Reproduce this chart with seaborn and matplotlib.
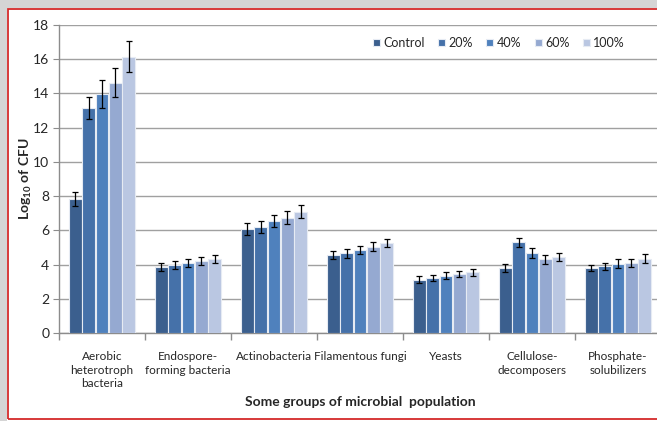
import numpy as np
import pandas as pd
import matplotlib
matplotlib.use('Agg')
import matplotlib.pyplot as plt
import seaborn as sns
from matplotlib.patches import Rectangle

# data
groups = ['Aerobic\nheterotroph\nbacteria', 'Endospore-\nforming bacteria', 'Actinobacteria',
          'Filamentous fungi', 'Yeasts', 'Cellulose-\ndecomposers', 'Phosphate-\nsolubilizers']
treatments = ['Control', '20%', '40%', '60%', '100%']
control = [7.85, 3.87, 6.05, 4.55, 3.12, 3.80, 3.80]
pct20 = [13.15, 3.97, 6.20, 4.65, 3.22, 5.30, 3.90]
pct40 = [13.97, 4.10, 6.55, 4.85, 3.35, 4.68, 4.05]
pct60 = [14.62, 4.20, 6.75, 5.05, 3.45, 4.30, 4.10]
pct100 = [16.15, 4.33, 7.10, 5.25, 3.55, 4.45, 4.35]
err_control = [0.40, 0.25, 0.35, 0.25, 0.20, 0.22, 0.20]
err_20 = [0.65, 0.22, 0.35, 0.25, 0.18, 0.25, 0.20]
err_40 = [0.80, 0.22, 0.35, 0.25, 0.20, 0.28, 0.25]
err_60 = [0.85, 0.25, 0.40, 0.28, 0.18, 0.25, 0.25]
err_100 = [0.90, 0.25, 0.40, 0.25, 0.20, 0.25, 0.25]

colors = ['#3b5f8e', '#4571a9', '#4f81bd', '#95a9d1', '#bac7e2']

values = [control, pct20, pct40, pct60, pct100]
errors = [err_control, err_20, err_40, err_60, err_100]
df = pd.DataFrame({
    'group': groups * len(treatments),
    'treatment': np.repeat(treatments, len(groups)),
    'value': np.concatenate(values),
})

sns.set_style('white')
plt.rcParams['font.family'] = ['Lato', 'DejaVu Sans']
plt.rcParams['mathtext.fontset'] = 'custom'
plt.rcParams['mathtext.bf'] = 'Lato:bold'
plt.rcParams['mathtext.rm'] = 'Lato'

fig = plt.figure(figsize=(6.57, 4.21), dpi=100)
ax = fig.add_axes([59 / 657, 1 - 333 / 421, 602 / 657, 308 / 421])

sns.barplot(data=df, x='group', y='value', hue='treatment', hue_order=treatments,
            palette=colors, saturation=1, width=0.78, gap=0.04, edgecolor='#e6ebf3',
            linewidth=0.8, errorbar=None, ax=ax, zorder=3)

for cont, err in zip(ax.containers, errors):
    xs = [p.get_x() + p.get_width() / 2 for p in cont]
    ys = [p.get_height() for p in cont]
    ax.errorbar(xs, ys, yerr=err, fmt='none', ecolor='black', elinewidth=0.9,
                capsize=2.5, capthick=0.9, zorder=4)

ax.set_ylim(0, 18)
ax.set_yticks(range(0, 19, 2))
ax.set_xlim(-0.5, len(groups) - 0.5)
ax.yaxis.grid(True, color='#a0a0a0', linewidth=1.0, zorder=0)
ax.set_axisbelow(True)
for s in ['top', 'right']:
    ax.spines[s].set_visible(False)
for s in ['left', 'bottom']:
    ax.spines[s].set_color('#8c8c8c')
    ax.spines[s].set_linewidth(1.0)

# tick marks at category boundaries
ax.set_xticks(np.arange(len(groups)))
ax.set_xticklabels(groups, fontsize=8.5, linespacing=1.3)
ax.tick_params(axis='x', length=0, pad=13)
ax.set_xticks(np.arange(len(groups) + 1) - 0.5, minor=True)
ax.tick_params(axis='x', which='minor', length=5, color='#8c8c8c', width=1.0, bottom=True)
ax.tick_params(axis='y', labelsize=10, length=4, color='#8c8c8c', left=True, pad=3)

ax.set_xlabel('Some groups of microbial  population', fontsize=10, fontweight='bold')
ax.xaxis.set_label_coords(0.5, -(396 - 333) / 308, transform=ax.transAxes)
ax.set_ylabel(r'Log$_{\mathbf{10}}$ of CFU', fontsize=10, fontweight='bold')
ax.yaxis.set_label_coords(-(59 - 34) / 602, 0.5)

leg = ax.legend(loc='center left', bbox_to_anchor=(368 / 657, 1 - 43 / 421),
                bbox_transform=fig.transFigure, ncol=5, frameon=False,
                fontsize=9, handlelength=0.55, handleheight=0.55, handletextpad=0.3,
                columnspacing=1.05, borderaxespad=0)

# outer frame: grey shadow and red border
fig.patches.append(Rectangle((0, 1 - 8 / 421), 1, 8 / 421, transform=fig.transFigure,
                             facecolor='#d5d5d5', edgecolor='none', zorder=0))
fig.patches.append(Rectangle((0, 0), 7 / 657, 1, transform=fig.transFigure,
                             facecolor='#d5d5d5', edgecolor='none', zorder=0))
fig.patches.append(Rectangle((8 / 657, 2 / 421), 1.1, 1 - 11 / 421, transform=fig.transFigure,
                             facecolor='none', edgecolor='#d42a2a', linewidth=1.3, zorder=1))

fig.savefig('out.png', dpi=100)
